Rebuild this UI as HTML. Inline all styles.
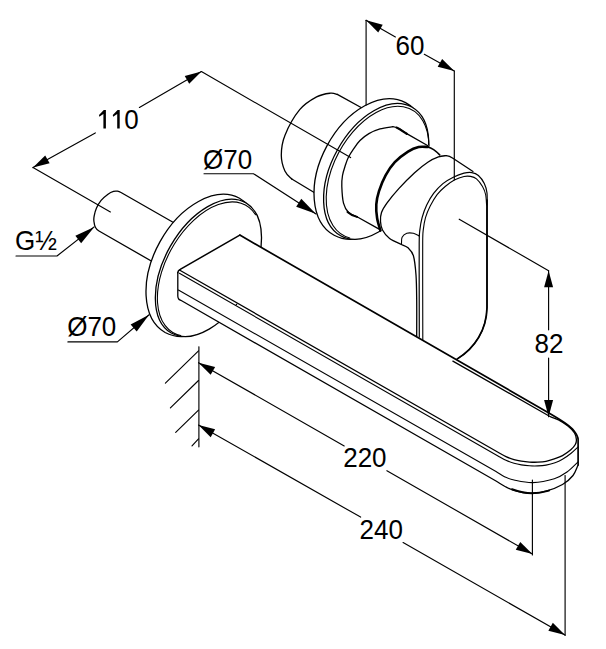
<!DOCTYPE html>
<html><head><meta charset="utf-8"><style>
html,body{margin:0;padding:0;background:#fff;width:606px;height:649px;overflow:hidden}
svg{display:block;position:absolute;left:0;top:0}
text{font-family:"Liberation Sans",sans-serif;fill:#000;stroke:none}
</style></head><body>
<svg width="606" height="649" viewBox="0 0 606 649" stroke="#000" stroke-linecap="round" stroke-linejoin="round">
<path d="M337.3,94.4 C336.15,94.2 333.85,92.78 330.4,93.2 C326.95,93.62 321.72,94.15 316.6,96.9 C311.48,99.65 304.98,103.28 299.7,109.7 C294.42,116.12 287.97,127.82 284.9,135.4 C281.83,142.98 281.3,149.27 281.3,155.2 C281.3,161.13 283.15,167.03 284.9,171 C286.65,174.97 290.65,177.67 291.8,179 L312.6,191.9 L372,169 L362,108 Z" fill="#fff" stroke="none"/>
<path d="M337.3,94.4 C336.15,94.2 333.85,92.78 330.4,93.2 C326.95,93.62 321.72,94.15 316.6,96.9 C311.48,99.65 304.98,103.28 299.7,109.7 C294.42,116.12 287.97,127.82 284.9,135.4 C281.83,142.98 281.3,149.27 281.3,155.2 C281.3,161.13 283.15,167.03 284.9,171 C286.65,174.97 290.65,177.67 291.8,179" fill="none" stroke-width="1.3"/>
<path d="M337.3,94.4 L362,108" fill="none" stroke-width="1.3"/>
<path d="M291.8,179 L320,196" fill="none" stroke-width="1.3"/>
<path d="M405.54,102.66 A75.32 48.75 -61.7 0 1 334.12,235.3 A75.32 48.75 -61.7 0 1 405.54,102.66Z" fill="#fff" stroke-width="1.3"/>
<path d="M411.69,107.05 A73.48 44.36 -61.1 0 1 340.67,235.71 A73.48 44.36 -61.1 0 1 411.69,107.05Z" fill="#fff" stroke-width="1.3"/>
<path d="M349.76,237.93 A71.56 43.66 -61.5 0 1 352.65,132.08 A71.56 43.66 -61.5 0 1 428.9,145.55" fill="none" stroke-width="1.1"/>
<path d="M392.8,126.7 C390.67,127.07 383.98,127.75 380,128.9 C376.02,130.05 372.23,131.67 368.9,133.6 C365.57,135.53 362.55,137.95 360,140.5 C357.45,143.05 355.55,146.07 353.6,148.9 C351.65,151.73 349.7,154.68 348.3,157.5 C346.9,160.32 346.17,162.8 345.2,165.8 C344.23,168.8 343.07,172.1 342.5,175.5 C341.93,178.9 341.63,181.6 341.8,186.2 C341.97,190.8 342.37,198.72 343.5,203.1 C344.63,207.48 346.35,210.23 348.6,212.5 C350.85,214.77 355.6,216 357,216.7 L379.6,229.4 L430,200 L429,146 L406.7,133.6 Z" fill="#fff" stroke="none"/>
<path d="M392.8,126.7 C390.67,127.07 383.98,127.75 380,128.9 C376.02,130.05 372.23,131.67 368.9,133.6 C365.57,135.53 362.55,137.95 360,140.5 C357.45,143.05 355.55,146.07 353.6,148.9 C351.65,151.73 349.7,154.68 348.3,157.5 C346.9,160.32 346.17,162.8 345.2,165.8 C344.23,168.8 343.07,172.1 342.5,175.5 C341.93,178.9 341.63,181.6 341.8,186.2 C341.97,190.8 342.37,198.72 343.5,203.1 C344.63,207.48 346.35,210.23 348.6,212.5 C350.85,214.77 355.6,216 357,216.7" fill="none" stroke-width="1.3"/>
<path d="M392.8,126.7 C396,127 398,128 400.7,129.6 C403,131 405,132.6 406.7,133.6 L427.5,145.5" fill="none" stroke-width="1.3"/>
<path d="M357,216.7 L379.6,229.4" fill="none" stroke-width="1.3"/>
<path d="M396.5,127.6 C400,129 403,131.5 406.7,133.8" fill="none" stroke-width="2.2"/>
<path d="M347.5,212 C350,214.3 353,215.8 357,216.9" fill="none" stroke-width="2"/>
<path d="M427.8,147 C426.27,147 421.9,146.23 418.6,147 C415.3,147.77 411.97,149.07 408,151.6 C404.03,154.13 398.53,158.23 394.8,162.2 C391.07,166.17 388.23,170.57 385.6,175.4 C382.97,180.23 380.55,186.37 379,191.2 C377.45,196.03 376.62,199.93 376.3,204.4 C375.98,208.87 376.42,213.63 377.1,218 C377.78,222.37 379.85,228.5 380.4,230.6 L445,240 L445,155 Z" fill="#fff" stroke="none"/>
<path d="M427.8,147 C426.27,147 421.9,146.23 418.6,147 C415.3,147.77 411.97,149.07 408,151.6 C404.03,154.13 398.53,158.23 394.8,162.2 C391.07,166.17 388.23,170.57 385.6,175.4 C382.97,180.23 380.55,186.37 379,191.2 C377.45,196.03 376.62,199.93 376.3,204.4 C375.98,208.87 376.42,213.63 377.1,218 C377.78,222.37 379.85,228.5 380.4,230.6" fill="none" stroke-width="2.6"/>
<path d="M427.8,147 C432,148 436,151 439.7,154.9" fill="none" stroke-width="1.6"/>
<path d="M446.3,155.6 C444.98,155.82 441.48,155.8 438.4,156.9 C435.32,158 431.77,159.57 427.8,162.2 C423.83,164.83 419.43,168.3 414.6,172.7 C409.77,177.1 403.42,183.53 398.8,188.6 C394.18,193.67 389.78,199.12 386.9,203.1 C384.02,207.08 382.57,209.43 381.5,212.5 C380.43,215.57 380.33,218.58 380.5,221.5 C380.67,224.42 380.98,227.15 382.5,230 C384.02,232.85 386.43,236.18 389.6,238.6 C392.77,241.02 399.52,243.52 401.5,244.5 L420,260 L487,260 L487,180 L449.3,157.9 Z" fill="#fff" stroke="none"/>
<path d="M446.3,155.6 C444.98,155.82 441.48,155.8 438.4,156.9 C435.32,158 431.77,159.57 427.8,162.2 C423.83,164.83 419.43,168.3 414.6,172.7 C409.77,177.1 403.42,183.53 398.8,188.6 C394.18,193.67 389.78,199.12 386.9,203.1 C384.02,207.08 382.57,209.43 381.5,212.5 C380.43,215.57 380.33,218.58 380.5,221.5 C380.67,224.42 380.98,227.15 382.5,230 C384.02,232.85 386.43,236.18 389.6,238.6 C392.77,241.02 399.52,243.52 401.5,244.5" fill="none" stroke-width="1.3"/>
<path d="M446.3,155.6 C449,155.8 451,156.9 452.9,158.2 L473,171.5" fill="none" stroke-width="1.3"/>
<path d="M401.5,243.8 C401.6,242.7 401.22,238.95 402.1,237.2 C402.98,235.45 404.92,233.95 406.8,233.3 C408.68,232.65 411.37,232.87 413.4,233.3 C415.43,233.73 418.07,235.47 419,235.9" fill="none" stroke-width="1.1"/>
<path d="M401.5,244.5 C402.58,245.05 406.02,245.93 408,247.8 C409.98,249.67 412.07,251.17 413.4,255.7 C414.73,260.23 415.45,267.62 416,275 C416.55,282.38 416.58,289.82 416.7,300 C416.82,310.18 416.7,330.08 416.7,336.1" fill="none" stroke-width="1.3"/>
<path d="M419.3,337.1 C419.28,329.25 419.22,305.68 419.2,290 C419.18,274.32 419.1,252.93 419.2,243 C419.3,233.07 419.32,234.62 419.8,230.4 C420.28,226.18 420.95,221.93 422.1,217.7 C423.25,213.47 424.78,209.05 426.7,205 C428.62,200.95 430.9,196.97 433.6,193.4 C436.3,189.83 439.62,186.3 442.9,183.6 C446.18,180.9 449.78,178.93 453.3,177.2 C456.82,175.47 460.92,173.97 464,173.2 C467.08,172.43 469.4,172.22 471.8,172.6 C474.2,172.98 476.32,173.68 478.4,175.5 C480.48,177.32 482.87,180.58 484.3,183.5 C485.73,186.42 486.55,188.58 487,193 C487.45,197.42 487,207.17 487,210 L487,307.4 C486.5,330 475,348 457.3,358.9 Z" fill="#fff" stroke="none"/>
<path d="M419.3,337.1 C419.28,329.25 419.22,305.68 419.2,290 C419.18,274.32 419.1,252.93 419.2,243 C419.3,233.07 419.32,234.62 419.8,230.4 C420.28,226.18 420.95,221.93 422.1,217.7 C423.25,213.47 424.78,209.05 426.7,205 C428.62,200.95 430.9,196.97 433.6,193.4 C436.3,189.83 439.62,186.3 442.9,183.6 C446.18,180.9 449.78,178.93 453.3,177.2 C456.82,175.47 460.92,173.97 464,173.2 C467.08,172.43 469.4,172.22 471.8,172.6 C474.2,172.98 476.32,173.68 478.4,175.5 C480.48,177.32 482.87,180.58 484.3,183.5 C485.73,186.42 486.55,188.58 487,193 C487.45,197.42 487,207.17 487,210 L487,307.4 C486.5,330 475,348 457.3,358.9" fill="none" stroke-width="1.2"/>
<path d="M487,200 L487,307.4 C486.5,330 475,348 457.3,358.9" fill="none" stroke-width="1.7"/>
<path d="M422.8,340.1 C422.78,331.75 422.72,306.18 422.7,290 C422.68,273.82 422.62,252.93 422.7,243 C422.78,233.07 422.73,234.62 423.2,230.4 C423.67,226.18 424.33,221.75 425.5,217.7 C426.67,213.65 428.27,209.95 430.2,206.1 C432.13,202.25 434.6,197.87 437.1,194.6 C439.6,191.33 442.32,188.92 445.2,186.5 C448.08,184.08 451.27,181.77 454.4,180.1 C457.53,178.43 461.32,177.12 464,176.5 C466.68,175.88 468.42,176.02 470.5,176.4 C472.58,176.78 474.5,177.12 476.5,178.8 C478.5,180.48 480.98,183.88 482.5,186.5 C484.02,189.12 484.92,191.42 485.6,194.5 C486.28,197.58 486.43,203.25 486.6,205" fill="none" stroke-width="1.1"/>
<path d="M160,266 L99,231 C97.57,230.18 96.35,229.13 95.5,227.5 C94.65,225.87 94.12,223.15 93.9,221.2 C93.68,219.25 93.77,217.98 94.2,215.8 C94.63,213.62 95.35,210.67 96.5,208.1 C97.65,205.53 99.18,202.72 101.1,200.4 C103.02,198.08 105.93,195.7 108,194.2 C110.07,192.7 111.92,191.9 113.5,191.4 C115.08,190.9 116.25,191.02 117.5,191.2 C118.75,191.38 119.92,191.88 121,192.5 L180,226.3 L195,225 Z" fill="#fff" stroke="none"/>
<path d="M160,266 L99,231 C97.57,230.18 96.35,229.13 95.5,227.5 C94.65,225.87 94.12,223.15 93.9,221.2 C93.68,219.25 93.77,217.98 94.2,215.8 C94.63,213.62 95.35,210.67 96.5,208.1 C97.65,205.53 99.18,202.72 101.1,200.4 C103.02,198.08 105.93,195.7 108,194.2 C110.07,192.7 111.92,191.9 113.5,191.4 C115.08,190.9 116.25,191.02 117.5,191.2 C118.75,191.38 119.92,191.88 121,192.5 L180,226.3" fill="none" stroke-width="1.3"/>
<path d="M239.5,198.27 A76.72 48.91 -61 0 1 165.12,332.47 A76.72 48.91 -61 0 1 239.5,198.27Z" fill="#fff" stroke-width="1.3"/>
<path d="M245.61,202.67 A75.05 44.14 -60.3 0 1 171.25,333.05 A75.05 44.14 -60.3 0 1 245.61,202.67Z" fill="#fff" stroke-width="1.3"/>
<path d="M180.72,335.56 A73.32 43.13 -60.2 0 1 174.39,243.95 A73.32 43.13 -60.2 0 1 255.56,214.73" fill="none" stroke-width="1.1"/>
<path d="M177.8,272.5 L177.8,296 C177.8,297.04 178.13,298.25 178.7,299 C179.27,299.75 180.36,300.02 181.2,300.5 L496,481 C499.05,482.75 502,484.93 505,486.5 C508,488.07 509.92,489.27 514,490.4 C518.08,491.53 524.17,493.18 529.5,493.3 C534.83,493.42 540.5,492.57 546,491.1 C551.5,489.63 558,487.1 562.5,484.5 C567,481.9 570.4,478.75 573,475.5 C575.6,472.25 576.4,468.5 578.1,465 L578.1,439 L470,437 Z" fill="#fff" stroke="none"/>
<path d="M177.8,272.5 L177.8,296 C177.8,297.04 178.13,298.25 178.7,299 C179.27,299.75 180.36,300.02 181.2,300.5 L496,481 C499.05,482.75 502,484.93 505,486.5 C508,488.07 509.92,489.27 514,490.4 C518.08,491.53 524.17,493.18 529.5,493.3 C534.83,493.42 540.5,492.57 546,491.1 C551.5,489.63 558,487.1 562.5,484.5 C567,481.9 570.4,478.75 573,475.5 C575.6,472.25 576.4,468.5 578.1,465" fill="none" stroke-width="1.3"/>
<path d="M512,489.2 C520,492 526,493.2 532,493.3 C538,493.2 543,492.3 549,490.6" fill="none" stroke-width="2"/>
<path d="M178.4,270.3 L239.8,235.1 L549.3,413.2 C554.65,416.28 560.87,420.03 565,423 C569.13,425.97 571.92,428.23 574.1,431 C576.28,433.77 578.1,436.44 578.1,439.6 L578.1,465 L470,437 Z" fill="#fff" stroke="none"/>
<path d="M239.8,235.1 L549.3,413.2 C554.65,416.28 560.87,420.03 565,423 C569.13,425.97 571.92,428.23 574.1,431 C576.28,433.77 578.1,436.44 578.1,439.6 L578.1,465" fill="none" stroke-width="1.7"/>
<path d="M239.8,235.1 L180.2,269.4 Q177.8,270.6 177.8,272.8" fill="none" stroke-width="1.5"/>
<path d="M179.4,270 L498,452.3 C500.63,453.8 503.33,455.38 506,456.6 C508.67,457.82 511.45,458.83 514,459.6 C516.55,460.37 518.72,460.78 521.3,461.2 C523.88,461.62 526.75,461.93 529.5,462.1 C532.25,462.27 535.05,462.32 537.8,462.2 C540.55,462.08 543.25,461.95 546,461.4 C548.75,460.85 551.55,459.87 554.3,458.9 C557.05,457.93 559.75,457.12 562.5,455.6 C565.25,454.08 568.67,451.65 570.8,449.8 C572.93,447.95 574.37,446.22 575.3,444.5 C576.23,442.78 576.53,441.42 576.4,439.5 C576.27,437.58 575.9,435.25 574.5,433 C573.1,430.75 570.67,428.2 568,426 C565.33,423.8 561.58,421.42 558.5,419.8 C555.42,418.18 552.29,417.9 549.5,416.3 L452.9,361.1" fill="none" stroke-width="1.3"/>
<path d="M179.4,273.3 L498,455.9 C500.64,457.41 503.33,459.07 506,460.3 C508.67,461.53 511.45,462.53 514,463.3 C516.55,464.07 518.72,464.48 521.3,464.9 C523.88,465.32 526.75,465.63 529.5,465.8 C532.25,465.97 535.05,466.02 537.8,465.9 C540.55,465.78 543.13,465.62 546,465.1 C548.87,464.58 552.25,463.77 555,462.8 C557.75,461.83 559.87,460.85 562.5,459.3 C565.13,457.75 568.2,455.58 570.8,453.5 C573.4,451.42 575.67,449.03 578.1,446.8" fill="none" stroke-width="1.1"/>
<path d="M178.4,290 L496,471.6 C499.04,473.34 502,475.6 505,477 C508,478.4 509.37,479.07 514,480 C518.63,480.93 526.08,482.82 532.8,482.6 C539.52,482.38 548.6,480.47 554.3,478.7 C560,476.93 563.03,474.82 567,472 C570.97,469.18 574.4,465.2 578.1,461.8" fill="none" stroke-width="1.1"/>
<path d="M33,167.6 L95.3,132.9" fill="none" stroke-width="1.15"/>
<path d="M139.4,107.4 L201.4,71.6" fill="none" stroke-width="1.15"/>
<path d="M33,167.6 L49.65,163.29 L45.19,155.47Z" fill="#000" stroke="none"/>
<path d="M201.4,71.6 L184.75,75.91 L189.21,83.73Z" fill="#000" stroke="none"/>
<path d="M33,167.6 L110.4,212" fill="none" stroke-width="1.15"/>
<path d="M201.4,71.6 L350.6,157.6" fill="none" stroke-width="1.15"/>
<path d="M105.90,110.10 L105.90,128.60 L103.40,128.60 L103.40,114.00 L99.30,116.80 L99.00,114.90 L103.80,110.10Z" fill="#000" stroke="none"/>
<path d="M119.70,110.10 L119.70,128.60 L117.20,128.60 L117.20,114.00 L113.10,116.80 L112.80,114.90 L117.60,110.10Z" fill="#000" stroke="none"/>
<text transform="translate(124.3 129) scale(1 1.05)" font-size="26">0</text>
<path d="M366.1,20.3 L395.4,37" fill="none" stroke-width="1.15"/>
<path d="M424.3,54.3 L454.3,71.1" fill="none" stroke-width="1.15"/>
<path d="M366.1,20.3 L378.24,32.48 L382.73,24.69Z" fill="#000" stroke="none"/>
<path d="M454.3,71.1 L442.16,58.92 L437.67,66.71Z" fill="#000" stroke="none"/>
<path d="M366.1,20.3 L366.1,105" fill="none" stroke-width="1.15"/>
<path d="M454.3,71.1 L454.3,179.8" fill="none" stroke-width="1.15"/>
<text transform="translate(395.6 55) scale(1 1.05)" font-size="26">60</text>
<path d="M459.2,219.2 L548.6,270.7" fill="none" stroke-width="1.15"/>
<path d="M548.6,270.7 L548.6,329.8" fill="none" stroke-width="1.15"/>
<path d="M548.6,358 L548.6,416.7" fill="none" stroke-width="1.15"/>
<path d="M548.6,270.7 L544.1,287.3 L553.1,287.3Z" fill="#000" stroke="none"/>
<path d="M548.6,416.7 L553.1,400.1 L544.1,400.1Z" fill="#000" stroke="none"/>
<text transform="translate(534.6 353.1) scale(1 1.05)" font-size="26">82</text>
<path d="M198.5,362.7 L344.2,445.9" fill="none" stroke-width="1.15"/>
<path d="M386.9,470.7 L532.4,554.1" fill="none" stroke-width="1.15"/>
<path d="M198.5,362.7 L210.66,374.86 L215.14,367.05Z" fill="#000" stroke="none"/>
<path d="M532.4,554.1 L520.24,541.94 L515.76,549.75Z" fill="#000" stroke="none"/>
<path d="M532.4,480.1 L532.4,555" fill="none" stroke-width="1.15"/>
<text transform="translate(343.2 467.1) scale(1 1.05)" font-size="26">220</text>
<path d="M198.5,425 L360.6,517.1" fill="none" stroke-width="1.15"/>
<path d="M403.1,542.6 L565,635" fill="none" stroke-width="1.15"/>
<path d="M198.5,425 L210.67,437.16 L215.14,429.35Z" fill="#000" stroke="none"/>
<path d="M565,635 L552.83,622.84 L548.36,630.65Z" fill="#000" stroke="none"/>
<path d="M565.1,475.5 L565.1,635.5" fill="none" stroke-width="1.15"/>
<text transform="translate(359.6 539.1) scale(1 1.05)" font-size="26">240</text>
<path d="M198.9,346.8 L198.9,446.8" fill="none" stroke-width="1.15"/>
<path d="M198.5,350.8 L165.4,383.1" fill="none" stroke-width="1.15"/>
<path d="M198.5,380.5 L170.4,407.8" fill="none" stroke-width="1.15"/>
<path d="M198.5,410.2 L175.7,432.4" fill="none" stroke-width="1.15"/>
<path d="M198.5,438.9 L192,445.8" fill="none" stroke-width="1.15"/>
<text transform="translate(203 169) scale(1 1.05)" font-size="26">Ø70</text>
<path d="M204,173.7 L253.5,173.7 L316,214" fill="none" stroke-width="1.15"/>
<path d="M315.8,213.8 L301.27,198.86 L296.19,206.77Z" fill="#000" stroke="none"/>
<text transform="translate(15 249.8) scale(1 1.05)" font-size="26">G½</text>
<path d="M16,256 L57,256 L94.1,226.9" fill="none" stroke-width="1.15"/>
<path d="M94.3,227.1 L75.37,235.82 L81.13,243.25Z" fill="#000" stroke="none"/>
<text transform="translate(67.2 336.3) scale(1 1.05)" font-size="26">Ø70</text>
<path d="M67.9,341.9 L117.4,341.9 L149.1,314.8" fill="none" stroke-width="1.15"/>
<path d="M149.1,314.8 L130.62,324.42 L136.72,331.56Z" fill="#000" stroke="none"/>
</svg></body></html>
